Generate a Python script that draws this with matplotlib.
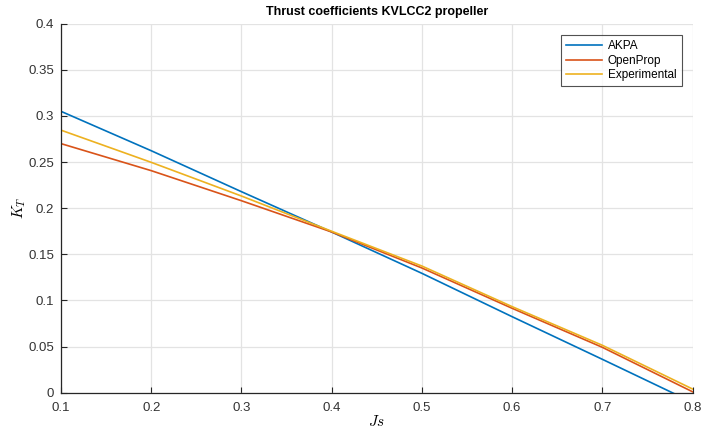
import matplotlib
matplotlib.use("Agg")
import matplotlib.pyplot as plt

# advance coefficient and thrust coefficient for each method
js = [0.1, 0.2, 0.3, 0.4, 0.5, 0.6, 0.7, 0.8]
kt_akpa = [0.305, 0.2623, 0.2179, 0.1742, 0.1294, 0.0824, 0.0362, -0.0105]
kt_openprop = [0.270, 0.2407, 0.2081, 0.1742, 0.1352, 0.0915, 0.0492, 0.001]
kt_experimental = [0.2846, 0.2497, 0.2132, 0.1750, 0.1373, 0.0933, 0.0514, 0.004]

xticks = [0.1, 0.2, 0.3, 0.4, 0.5, 0.6, 0.7, 0.8]
yticks = [0, 0.05, 0.1, 0.15, 0.2, 0.25, 0.3, 0.35, 0.4]

plt.rcParams["font.family"] = ["Liberation Sans", "DejaVu Sans"]
plt.rcParams["mathtext.fontset"] = "cm"

fig = plt.figure(figsize=(7.01, 4.34), dpi=100)
ax = fig.add_axes([0.087, 0.0952, 0.9009, 0.8502])

ax.plot(js, kt_akpa, color="#0072BD", lw=1.2, label="AKPA")
ax.plot(js, kt_openprop, color="#D95319", lw=1.2, label="OpenProp")
ax.plot(js, kt_experimental, color="#EDB120", lw=1.2, label="Experimental")

ax.set_xlim(0.1, 0.8)
ax.set_ylim(0, 0.4)
ax.set_xticks(xticks)
ax.set_xticklabels([f"{v:g}" for v in xticks])
ax.set_yticks(yticks)
ax.set_yticklabels([f"{v:g}" for v in yticks])

ax.grid(True, color="#e3e3e3", lw=0.9)
ax.set_axisbelow(True)
for side in ["top", "right"]:
    ax.spines[side].set_visible(False)
for side in ["left", "bottom"]:
    ax.spines[side].set_color("#262626")
    ax.spines[side].set_linewidth(0.9)
ax.tick_params(direction="in", length=4.5, width=0.8, colors="#262626",
               labelsize=9.5, labelcolor="#333333")
ax.tick_params(axis="x", pad=7)
ax.tick_params(axis="y", pad=5)

ax.set_title("Thrust coefficients KVLCC2 propeller", fontsize=9,
             fontweight="bold", color="black", pad=6)
ax.set_xlabel("$Js$", fontsize=11)
ax.set_ylabel("$K_T$", fontsize=11)
ax.xaxis.set_label_coords(0.5, -0.058)
ax.yaxis.set_label_coords(-0.053, 0.5)

leg = ax.legend(loc="upper right", fontsize=8.5, frameon=True, fancybox=False,
                bbox_to_anchor=(0.9826, 0.969), borderaxespad=0,
                borderpad=0.45, handlelength=3.0,
                labelspacing=0.2, handletextpad=0.5)
leg.get_frame().set_edgecolor("#262626")
leg.get_frame().set_linewidth(0.8)

fig.savefig("out.png", dpi=100)
